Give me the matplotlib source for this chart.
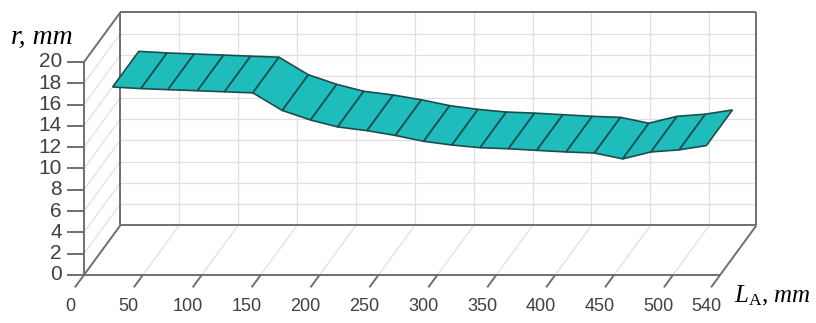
"""
r vs L_A ribbon chart (pseudo 3D, oblique projection)
"""

#%%
import matplotlib.pyplot as plt
from matplotlib.patches import Polygon

plt.rcParams['font.family'] = 'Liberation Sans'
plt.rcParams['mathtext.fontset'] = 'custom'
plt.rcParams['mathtext.it'] = 'Liberation Serif:italic'
plt.rcParams['mathtext.rm'] = 'Liberation Serif'

#%%

#Values

la_mm = [20, 44, 67, 92, 115, 139, 164, 188, 211, 236, 260,
         284, 308, 332, 356, 380, 405, 429, 453, 477, 501, 524]
r_mm = [17.0, 16.85, 16.75, 16.65, 16.55, 16.45, 14.8, 13.9, 13.25, 12.9, 12.45,
        11.9, 11.55, 11.3, 11.2, 11.05, 10.9, 10.8, 10.25, 10.9, 11.1, 11.5]

x_ticks = [0, 50, 100, 150, 200, 250, 300, 350, 400, 450, 500, 540]
y_ticks = [0, 2, 4, 6, 8, 10, 12, 14, 16, 18, 20]

#%%

#Oblique projection: depth d in 0..1 shifts a point right and up

DX, DY = 30.8, 4.65

def proj(x, y, d):
    return x + d * DX, y + d * DY

def seg(ax, p, q, **kw):
    ax.plot([p[0], q[0]], [p[1], q[1]], solid_capstyle='butt', **kw)

xmax = x_ticks[-1]
ymax = y_ticks[-1]

grid = dict(color='#e0e0e0', lw=0.9, zorder=1)
frame = dict(color='#6f6f6f', lw=1.4, zorder=2)

fig = plt.figure(figsize=(8.16, 3.23), dpi=100)
ax = fig.add_axes([0, 0, 1, 1])
ax.set_xlim(-71.3, 621.4)
ax.set_ylim(-4.51, 25.82)
ax.axis('off')

#%%

#Walls and gridlines

for r in y_ticks[1:-1]:
    seg(ax, proj(0, r, 1), proj(xmax, r, 1), **grid)
    seg(ax, proj(0, r, 0), proj(0, r, 1), **grid)
for x in x_ticks[1:-1]:
    seg(ax, proj(x, 0, 1), proj(x, ymax, 1), **grid)
    seg(ax, proj(x, 0, 0), proj(x, 0, 1), **grid)

#back wall
seg(ax, proj(0, 0, 1), proj(xmax, 0, 1), **frame)
seg(ax, proj(0, ymax, 1), proj(xmax, ymax, 1), **frame)
seg(ax, proj(0, 0, 1), proj(0, ymax, 1), **frame)
seg(ax, proj(xmax, 0, 1), proj(xmax, ymax, 1), **frame)
#side wall and floor edges
seg(ax, proj(0, ymax, 0), proj(0, ymax, 1), **frame)
seg(ax, proj(0, 0, 0), proj(0, 0, 1), **frame)
seg(ax, proj(xmax, 0, 0), proj(xmax, 0, 1), **frame)
seg(ax, proj(0, 0, 0), proj(xmax, 0, 0), **frame)
seg(ax, proj(0, 0, 0), proj(0, ymax, 0), **frame)

#%%

#Ticks and labels

for r in y_ticks:
    seg(ax, (-14.4, r), (0, r), **frame)
    ax.text(-18.7, r, str(r), ha='right', va='center', fontsize=15, color='#404040')

for x in x_ticks:
    seg(ax, proj(x, 0, 0), proj(x, 0, -0.25), **frame)
    ax.text(x - 12, -3.0, str(x), ha='center', va='center', fontsize=13, color='#404040')

ax.text(-62, 22.3, 'r, mm', family='Liberation Serif', style='italic',
        fontsize=20, ha='left', va='center')
ax.text(552, -2.0, r'$L_{\mathrm{A}}$, $mm$', family='Liberation Serif',
        fontsize=18, ha='left', va='center')

#%%

#Ribbon

d0, d1 = 0.14, 0.86
for i in range(len(la_mm) - 1):
    quad = [proj(la_mm[i], r_mm[i], d0), proj(la_mm[i + 1], r_mm[i + 1], d0),
            proj(la_mm[i + 1], r_mm[i + 1], d1), proj(la_mm[i], r_mm[i], d1)]
    ax.add_patch(Polygon(quad, closed=True, facecolor='#1fbcbc',
                         edgecolor='#1d4d4d', lw=1.2, zorder=3))

fig.savefig('out.png', dpi=100)
